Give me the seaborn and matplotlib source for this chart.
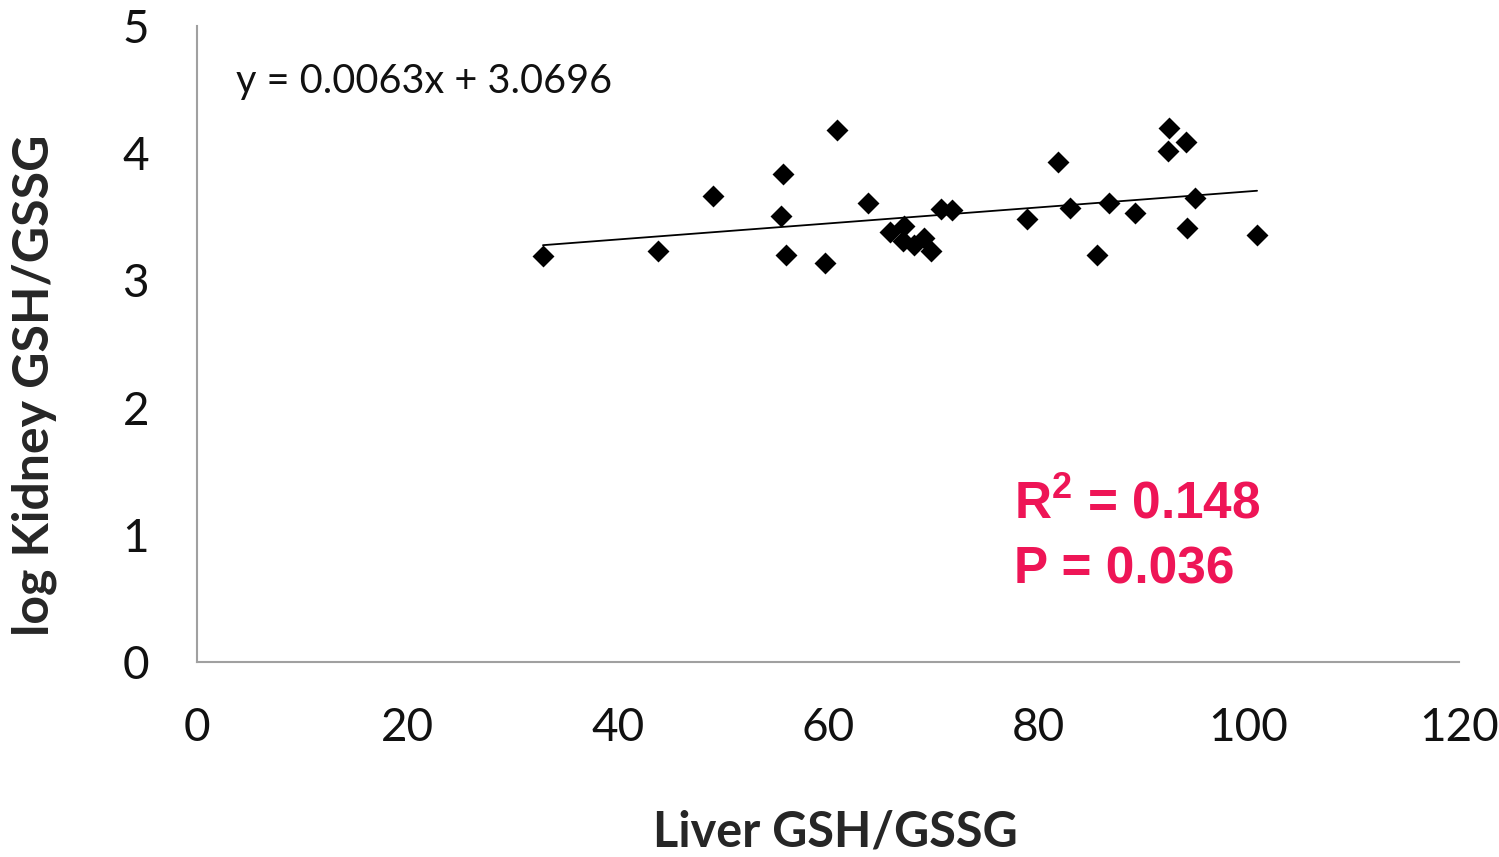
import numpy as np
import pandas as pd
import matplotlib
matplotlib.use("Agg")
import matplotlib.pyplot as plt
import seaborn as sns

# Data
liver = [32.9, 43.8, 49.1, 55.7, 55.5, 56.0, 59.7, 60.9, 63.8, 65.9,
         67.2, 67.1, 68.2, 69.1, 69.8, 70.7, 71.8, 78.9, 81.9, 83.0,
         85.6, 86.7, 89.2, 92.4, 92.3, 94.0, 94.9, 94.1, 100.8]
log_kidney = [3.19, 3.23, 3.66, 3.84, 3.51, 3.20, 3.14, 4.18, 3.61, 3.38,
              3.43, 3.31, 3.28, 3.33, 3.23, 3.56, 3.55, 3.48, 3.93, 3.57,
              3.20, 3.61, 3.53, 4.20, 4.02, 4.09, 3.65, 3.41, 3.36]
slope = 0.0063
intercept = 3.0696
equation_text = "y = 0.0063x + 3.0696"
r2_text = r"R$^{\mathbf{2}}$ = 0.148"
p_text = "P = 0.036"
x_ticks = [0, 20, 40, 60, 80, 100, 120]
y_ticks = [0, 1, 2, 3, 4, 5]

df = pd.DataFrame({"liver": liver, "kidney": log_kidney})
xs = np.array([min(liver), max(liver)])
trend = pd.DataFrame({"x": xs, "y": slope * xs + intercept})

sns.set_theme(style="white")
plt.rcParams["font.family"] = ["Lato", "DejaVu Sans"]
plt.rcParams["mathtext.fontset"] = "custom"
plt.rcParams["mathtext.rm"] = "Liberation Sans"
plt.rcParams["mathtext.bf"] = "Liberation Sans:bold"

fig = plt.figure(figsize=(14.99, 8.57), dpi=100)
ax = fig.add_axes([0.1314, 0.2275, 0.9733 - 0.1314, 0.9697 - 0.2275])

sns.lineplot(data=trend, x="x", y="y", ax=ax, color="black", linewidth=1.3)
sns.scatterplot(data=df, x="liver", y="kidney", ax=ax, marker="D", s=125,
                color="black", edgecolor="black", linewidth=0)

ax.set_xlim(0, 120)
ax.set_ylim(0, 5)
ax.set_xticks(x_ticks)
ax.set_yticks(y_ticks)
ax.set_xticklabels([str(t) for t in x_ticks])
ax.set_yticklabels([str(t) for t in y_ticks])

for side in ["top", "right"]:
    ax.spines[side].set_visible(False)
for side in ["left", "bottom"]:
    ax.spines[side].set_color("#A0A0A0")
    ax.spines[side].set_linewidth(1.5)

ax.tick_params(axis="both", which="major", direction="out", length=11.5,
               width=1.5, color="#A0A0A0", labelsize=33, labelcolor="#111111")
ax.tick_params(axis="y", pad=23)
ax.tick_params(axis="x", pad=21)

ax.set_xlabel("Liver GSH/GSSG", fontsize=35, fontweight="bold")
ax.set_ylabel("log Kidney GSH/GSSG", fontsize=36, fontweight="bold")
ax.xaxis.set_label_coords(0.506, -0.232)
ax.yaxis.set_label_coords(-0.111, 0.435)

ax.text(3.7, 4.56, equation_text, fontsize=28.5, color="#111111",
        ha="left", va="center")
ax.text(77.7, 1.24, r2_text, fontsize=37, fontweight="bold",
        color="#EE1556", family=["Liberation Sans", "DejaVu Sans"],
        ha="left", va="center")
ax.text(77.7, 0.72, p_text, fontsize=37, fontweight="bold",
        color="#EE1556", family=["Liberation Sans", "DejaVu Sans"],
        ha="left", va="center")

fig.savefig("out.png", dpi=100)
